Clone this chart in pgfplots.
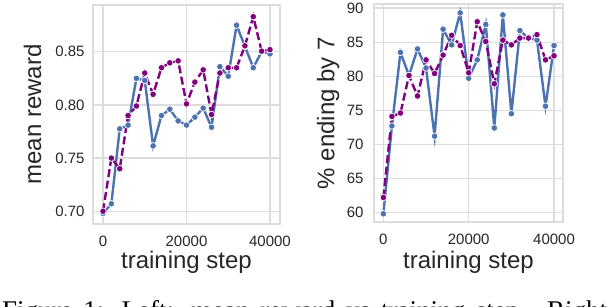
\documentclass[border=0pt]{standalone}
\usepackage{pgfplots}
\pgfplotsset{compat=1.18}
\usepackage{pgfplotstable}
\usepackage{fontspec}
\setmainfont{Liberation Sans}
\newfontfamily\capfont{Liberation Serif}
\definecolor{sbblue}{HTML}{4C72B0}
\definecolor{sbpurple}{HTML}{800080}
\definecolor{gridc}{HTML}{DCDCDC}
\definecolor{txt}{HTML}{262626}

\pgfplotstableread{
x y
0 0.698
2000 0.707
4000 0.7775
6000 0.781
8000 0.825
10000 0.823
12000 0.7615
14000 0.790
16000 0.796
18000 0.785
20000 0.781
22000 0.7885
24000 0.797
26000 0.779
28000 0.836
30000 0.827
32000 0.875
34000 0.855
36000 0.835
38000 0.850
40000 0.848
}\leftblue
\pgfplotstableread{
x y
0 0.700
2000 0.750
4000 0.740
6000 0.790
8000 0.799
10000 0.830
12000 0.810
14000 0.835
16000 0.8396
18000 0.8415
20000 0.801
22000 0.8215
24000 0.833
26000 0.791
28000 0.830
30000 0.835
32000 0.835
34000 0.8556
36000 0.883
38000 0.8506
40000 0.852
}\leftpurple
\pgfplotstableread{
x y
0 59.8
2000 72.7
4000 83.5
6000 80.1
8000 84.0
10000 81.2
12000 71.2
14000 86.9
16000 84.6
18000 89.3
20000 79.7
22000 82.4
24000 87.6
26000 72.4
28000 89.0
30000 74.5
32000 86.7
34000 85.6
36000 85.3
38000 75.6
40000 84.5
}\rightblue
\pgfplotstableread{
x y
0 62.2
2000 74.1
4000 74.6
6000 80.1
8000 77.1
10000 82.4
12000 80.4
14000 83.1
16000 86.0
18000 84.5
20000 80.5
22000 88.0
24000 85.1
26000 78.9
28000 85.3
30000 84.6
32000 85.6
34000 85.6
36000 86.1
38000 82.4
40000 83.0
}\rightpurple

\pgfplotsset{
  sbstyle/.style={
    scale only axis,
    anchor=south west,
    axis line style={gridc, line width=2pt},
    grid=major,
    major grid style={gridc, line width=1.3pt},
    major tick length=0pt,
    tick style={draw=none},
    /pgf/number format/assume math mode=true,
    /pgf/number format/1000 sep={},
    ticklabel style={font=\fontsize{15}{18}\selectfont, text=txt},
    label style={font=\fontsize{24}{28}\selectfont, text=txt},
    xtick={0,20000,40000},
    scaled x ticks=false,
    scaled y ticks=false,
    xticklabel style={yshift=-8pt},
    clip=false,
  },
  bluel/.style={color=sbblue, line width=2.4pt, solid, mark=*, mark size=3.3pt,
    mark options={solid, fill=sbblue, draw=white, line width=0.7pt}},
  purpl/.style={color=sbpurple, line width=2.4pt, dash pattern=on 8pt off 3.5pt, mark=*, mark size=3.3pt,
    mark options={solid, fill=sbpurple, draw=white, line width=0.7pt}},
}

\begin{document}
\begin{tikzpicture}[x=1pt,y=1pt]
\path[use as bounding box] (0,0) rectangle (610,306);
\clip (0,0) rectangle (610,306);

\begin{axis}[sbstyle,
  at={(93pt,82pt)}, width=187pt, height=219pt,
  xmin=-2400, xmax=42400, ymin=0.688, ymax=0.894,
  ytick={0.70,0.75,0.80,0.85},
  yticklabels={0.70,0.75,0.80,0.85},
  yticklabel style={xshift=-5pt},
  xlabel={training step}, ylabel={mean reward},
  xlabel style={at={(rel axis cs:0.5,-0.201)}, anchor=base},
  ylabel style={at={(rel axis cs:-0.3235,0.5)}, anchor=center, rotate=0},
]
\addplot[bluel] table[x=x,y=y] {\leftblue};
\addplot[purpl] table[x=x,y=y] {\leftpurple};
\end{axis}

\begin{axis}[sbstyle,
  at={(374pt,84pt)}, width=189pt, height=218pt,
  xmin=-2200, xmax=42100, ymin=58.6, ymax=90.6,
  ytick={60,65,70,75,80,85,90},
  yticklabel style={xshift=-7pt},
  xlabel={training step}, ylabel={\% ending by 7},
  xlabel style={at={(rel axis cs:0.5,-0.211)}, anchor=base},
  ylabel style={at={(rel axis cs:-0.243,0.5)}, anchor=center, rotate=0},
]
\addplot[bluel] table[x=x,y=y] {\rightblue};
\addplot[purpl] table[x=x,y=y] {\rightpurple};
\end{axis}

\node[anchor=base west, inner sep=0pt] at (2,-13.5)
  {\capfont\fontsize{27}{30}\selectfont\makebox[605pt][s]{Figure 1: Left: mean reward vs training step. Right}};
\end{tikzpicture}
\end{document}
